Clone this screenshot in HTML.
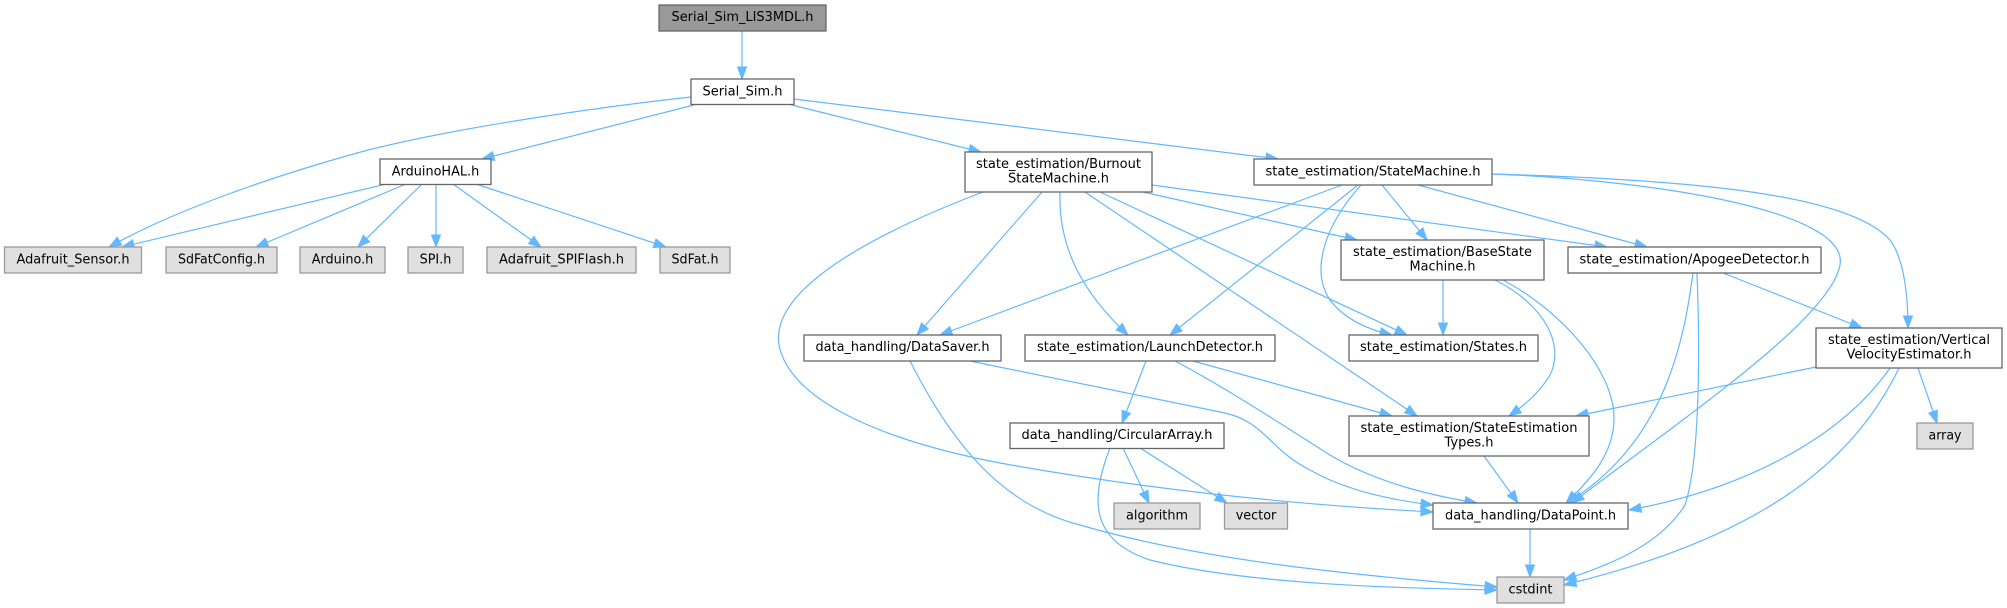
<!DOCTYPE html>
<html><head><meta charset="utf-8"><style>
html,body{margin:0;padding:0;background:#fff;}
svg{display:block;}
text{font-family:"DejaVu Sans","Liberation Sans",sans-serif;font-size:13px;fill:#000;}
.n{fill:#fff;stroke:#666;stroke-width:1.3;}
.g{fill:#e0e0e0;stroke:#999;stroke-width:1.3;}
.r{fill:#999;stroke:#666;stroke-width:1.3;}
.e{fill:none;stroke:#63b8ff;stroke-width:1.2;marker-end:url(#a);}
</style></head><body>
<svg width="2007" height="608" viewBox="0 0 2007 608" xmlns="http://www.w3.org/2000/svg">
<defs>
<marker id="a" markerUnits="userSpaceOnUse" markerWidth="13" markerHeight="11" refX="12" refY="5" orient="auto" overflow="visible">
<path d="M0,0.5 L12,5 L0,9.5 z" fill="#63b8ff" stroke="#63b8ff" stroke-width="1"/>
</marker>
</defs>

<!-- edges -->
<path class="e" d="M742,31 L742,79"/>
<path class="e" d="M691,97 C600,107 450,128 357,153 C260,180 170,213 109,247"/>
<path class="e" d="M694,105 L482,159"/>
<path class="e" d="M788,104 L981,152"/>
<path class="e" d="M794,99 L1278,159"/>

<path class="e" d="M386,184 L122,247"/>
<path class="e" d="M406,184 L256,247"/>
<path class="e" d="M422,184 L358,247"/>
<path class="e" d="M436,184 L436,247"/>
<path class="e" d="M453,184 L541,247"/>
<path class="e" d="M476,184 L666,247"/>

<path class="e" d="M1042,192 L917,335"/>
<path class="e" d="M1060,192 C1058,250 1085,295 1128,335"/>
<path class="e" d="M1100,192 L1407,335"/>
<path class="e" d="M1085,192 C1180,255 1290,330 1417,416"/>
<path class="e" d="M1143,192 L1357,240"/>
<path class="e" d="M1152,185 L1607,247"/>
<path class="e" d="M983,192 C870,235 770,290 779,345 C790,400 880,440 1000,463 C1150,490 1300,505 1433,512"/>

<path class="e" d="M1342,185 L940,335"/>
<path class="e" d="M1358,185 L1170,335"/>
<path class="e" d="M1361,185 C1325,225 1310,270 1330,300 C1345,320 1370,330 1392,335"/>
<path class="e" d="M1382,185 L1427,240"/>
<path class="e" d="M1418,185 L1647,247"/>
<path class="e" d="M1492,174 C1650,180 1850,210 1840,265 C1830,320 1680,420 1572,503"/>
<path class="e" d="M1492,174 C1700,180 1850,195 1890,240 C1905,260 1908,300 1908,328"/>

<path class="e" d="M1443,280 L1443,335"/>
<path class="e" d="M1495,280 C1545,305 1565,345 1550,375 C1540,392 1525,405 1509,416"/>
<path class="e" d="M1503,280 C1560,310 1615,370 1614,420 C1613,455 1590,480 1566,503"/>

<path class="e" d="M1723,273 L1862,328"/>
<path class="e" d="M1693,273 C1685,330 1670,440 1567,503"/>
<path class="e" d="M1697,273 C1700,350 1700,460 1685,505 C1660,545 1610,565 1564,580"/>

<path class="e" d="M1816,367 L1576,416"/>
<path class="e" d="M1918,368 L1937,423"/>
<path class="e" d="M1890,368 C1840,440 1740,490 1629,510"/>
<path class="e" d="M1899,368 C1850,470 1750,540 1564,585"/>

<path class="e" d="M1146,361 L1122,423"/>
<path class="e" d="M1193,361 L1392,416"/>
<path class="e" d="M1175,361 C1230,390 1290,430 1330,455 C1380,485 1440,497 1477,503"/>

<path class="e" d="M970,361 L1225,413 C1265,422 1270,450 1310,470 C1345,490 1390,500 1433,505"/>
<path class="e" d="M910,361 C950,440 1000,505 1080,525 C1200,560 1350,575 1497,587"/>

<path class="e" d="M1123,448 L1149,503"/>
<path class="e" d="M1140,448 L1227,503"/>
<path class="e" d="M1110,448 C1090,500 1090,540 1150,560 C1250,585 1400,588 1497,590"/>

<path class="e" d="M1484,456 L1518,503"/>
<path class="e" d="M1530,529 L1530,577"/>

<!-- nodes -->
<rect class="r" x="659" y="5" width="167" height="26"/>
<text x="742.5" y="21" text-anchor="middle" textLength="142" lengthAdjust="spacingAndGlyphs">Serial_Sim_LIS3MDL.h</text>

<rect class="n" x="691" y="79" width="103" height="25.5"/>
<text x="742.5" y="95.5" text-anchor="middle" textLength="80" lengthAdjust="spacingAndGlyphs">Serial_Sim.h</text>

<rect class="n" x="380" y="159" width="111" height="25.5"/>
<text x="435.5" y="175.5" text-anchor="middle" textLength="87.5" lengthAdjust="spacingAndGlyphs">ArduinoHAL.h</text>

<rect class="n" x="965" y="152" width="187" height="40"/>
<text x="1058.5" y="168" text-anchor="middle" textLength="165" lengthAdjust="spacingAndGlyphs">state_estimation/Burnout</text>
<text x="1058.5" y="182.7" text-anchor="middle" textLength="101" lengthAdjust="spacingAndGlyphs">StateMachine.h</text>

<rect class="n" x="1254" y="159" width="238" height="26"/>
<text x="1373" y="175.5" text-anchor="middle" textLength="215" lengthAdjust="spacingAndGlyphs">state_estimation/StateMachine.h</text>

<rect class="g" x="4.5" y="247" width="137" height="26"/>
<text x="73" y="263.5" text-anchor="middle" textLength="113" lengthAdjust="spacingAndGlyphs">Adafruit_Sensor.h</text>

<rect class="g" x="166" y="247" width="111" height="26"/>
<text x="221.5" y="263.5" text-anchor="middle" textLength="87" lengthAdjust="spacingAndGlyphs">SdFatConfig.h</text>

<rect class="g" x="300" y="247" width="85" height="26"/>
<text x="342.5" y="263.5" text-anchor="middle" textLength="61.6" lengthAdjust="spacingAndGlyphs">Arduino.h</text>

<rect class="g" x="408" y="247" width="55" height="26"/>
<text x="435.5" y="263.5" text-anchor="middle" textLength="31.7" lengthAdjust="spacingAndGlyphs">SPI.h</text>

<rect class="g" x="487" y="247" width="149" height="26"/>
<text x="561.5" y="263.5" text-anchor="middle" textLength="125" lengthAdjust="spacingAndGlyphs">Adafruit_SPIFlash.h</text>

<rect class="g" x="660" y="247" width="70" height="26"/>
<text x="695" y="263.5" text-anchor="middle" textLength="47" lengthAdjust="spacingAndGlyphs">SdFat.h</text>

<rect class="n" x="1341" y="240" width="203" height="40"/>
<text x="1442.5" y="256" text-anchor="middle" textLength="179" lengthAdjust="spacingAndGlyphs">state_estimation/BaseState</text>
<text x="1442.5" y="270.7" text-anchor="middle" textLength="66" lengthAdjust="spacingAndGlyphs">Machine.h</text>

<rect class="n" x="1568" y="247" width="253" height="26"/>
<text x="1694.5" y="263.3" text-anchor="middle" textLength="230" lengthAdjust="spacingAndGlyphs">state_estimation/ApogeeDetector.h</text>

<rect class="n" x="804" y="335" width="197" height="26"/>
<text x="902.5" y="351" text-anchor="middle" textLength="174" lengthAdjust="spacingAndGlyphs">data_handling/DataSaver.h</text>

<rect class="n" x="1025" y="335" width="250" height="26"/>
<text x="1150" y="351" text-anchor="middle" textLength="226" lengthAdjust="spacingAndGlyphs">state_estimation/LaunchDetector.h</text>

<rect class="n" x="1349" y="335" width="189" height="26"/>
<text x="1443.5" y="351" text-anchor="middle" textLength="167" lengthAdjust="spacingAndGlyphs">state_estimation/States.h</text>

<rect class="n" x="1816" y="328" width="186" height="40"/>
<text x="1909" y="344" text-anchor="middle" textLength="162" lengthAdjust="spacingAndGlyphs">state_estimation/Vertical</text>
<text x="1909" y="358.7" text-anchor="middle" textLength="125" lengthAdjust="spacingAndGlyphs">VelocityEstimator.h</text>

<rect class="n" x="1010" y="423" width="214" height="25.5"/>
<text x="1117" y="439" text-anchor="middle" textLength="191" lengthAdjust="spacingAndGlyphs">data_handling/CircularArray.h</text>

<rect class="n" x="1349" y="416" width="240" height="40"/>
<text x="1469" y="432" text-anchor="middle" textLength="217" lengthAdjust="spacingAndGlyphs">state_estimation/StateEstimation</text>
<text x="1469" y="446.7" text-anchor="middle" textLength="49" lengthAdjust="spacingAndGlyphs">Types.h</text>

<rect class="g" x="1917" y="423" width="56" height="26"/>
<text x="1945" y="439.5" text-anchor="middle" textLength="33" lengthAdjust="spacingAndGlyphs">array</text>

<rect class="g" x="1114" y="503" width="86" height="26"/>
<text x="1157" y="519.5" text-anchor="middle" textLength="62" lengthAdjust="spacingAndGlyphs">algorithm</text>

<rect class="g" x="1224.5" y="503" width="63" height="26"/>
<text x="1256" y="519.5" text-anchor="middle" textLength="40.6" lengthAdjust="spacingAndGlyphs">vector</text>

<rect class="n" x="1433" y="503" width="195" height="26"/>
<text x="1530.5" y="519.5" text-anchor="middle" textLength="171" lengthAdjust="spacingAndGlyphs">data_handling/DataPoint.h</text>

<rect class="g" x="1497" y="577" width="67" height="26"/>
<text x="1530.5" y="593.5" text-anchor="middle" textLength="44" lengthAdjust="spacingAndGlyphs">cstdint</text>
</svg>
</body></html>
